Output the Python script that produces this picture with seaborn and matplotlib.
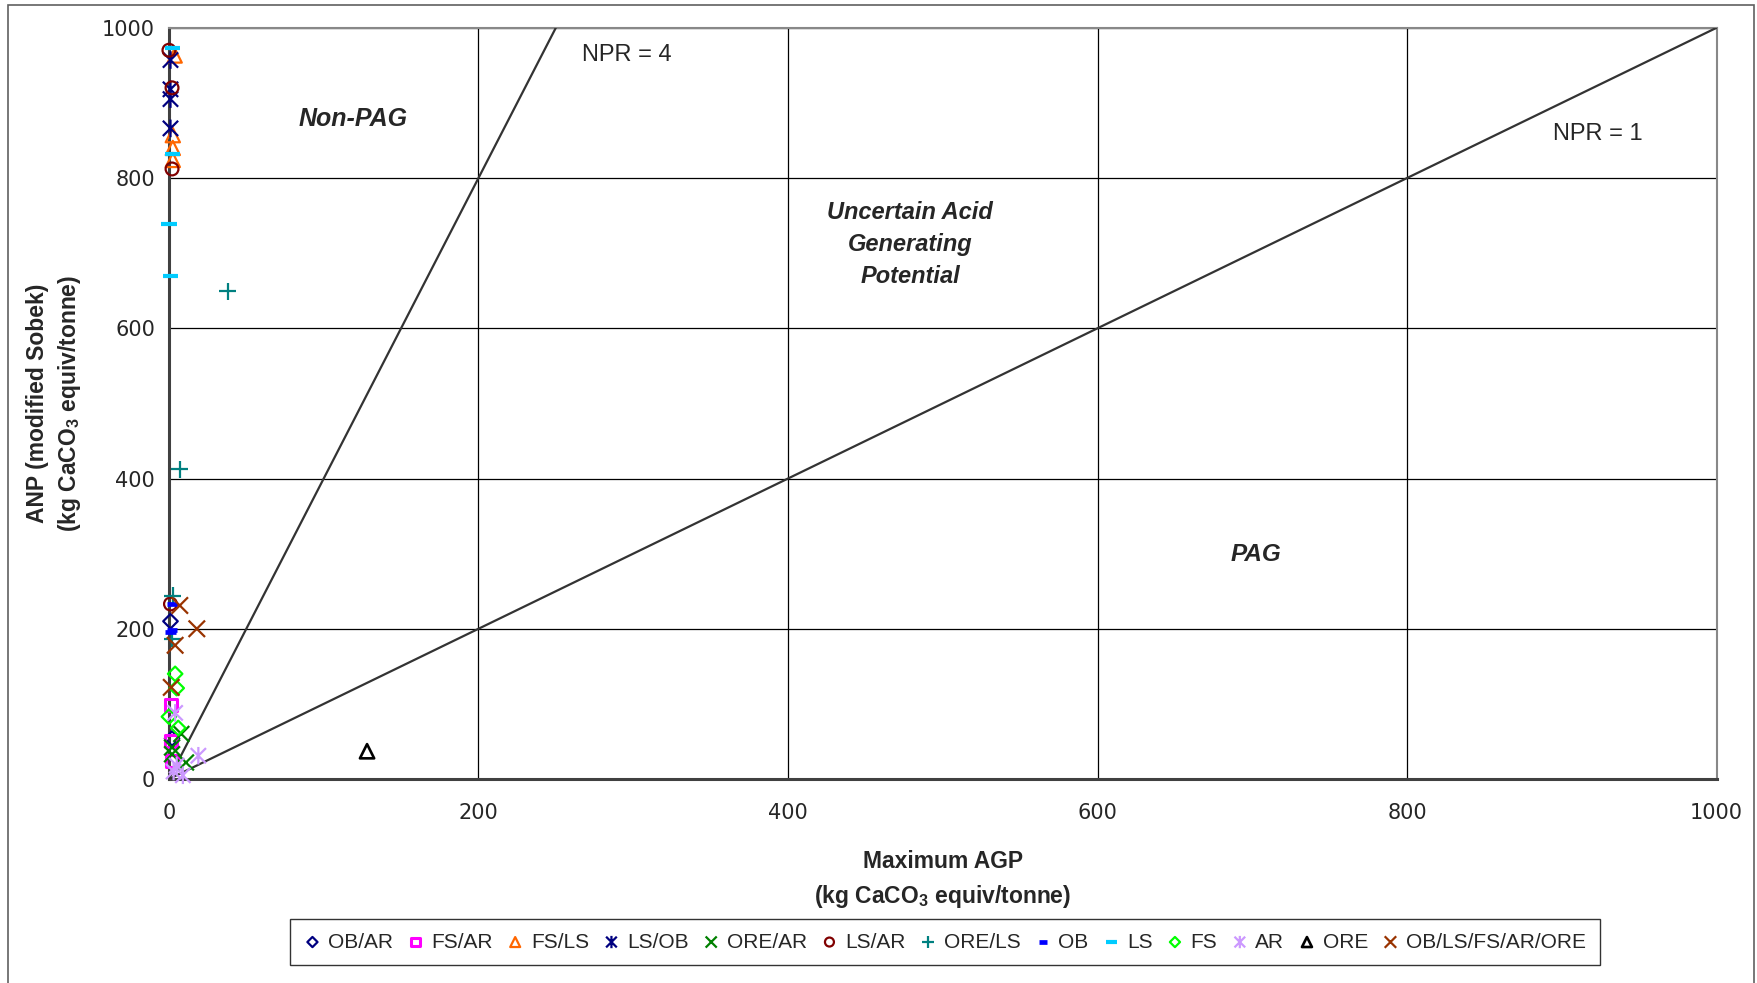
import numpy as np
import pandas as pd
import matplotlib
matplotlib.use("Agg")
import matplotlib.pyplot as plt
from matplotlib.path import Path
from matplotlib.patches import Rectangle
from matplotlib import font_manager
import seaborn as sns

# ---- data: (Maximum AGP, ANP) per lithology group ----
ob_ar_agp = [1, 2]
ob_ar_anp = [210, 54]
fs_ar_agp = [1.5, 1.5, 2]
fs_ar_anp = [99, 51, 24]
fs_ls_agp = [3.7, 2.5, 2.5, 2.5]
fs_ls_anp = [963, 857, 840, 824]
ls_ob_agp = [1, 1, 1, 1]
ls_ob_anp = [957, 918, 905, 866]
ore_ar_agp = [8, 2, 2, 11]
ore_ar_anp = [60, 42, 33, 22]
ls_ar_agp = [0, 2, 2, 1]
ls_ar_anp = [970, 920, 812, 233]
ore_ls_agp = [38, 7, 2.5, 2]
ore_ls_anp = [649, 412, 244, 187]
ob_agp = [2, 2, 1]
ob_anp = [233, 199, 196]
ls_agp = [2.5, 2.5, 0, 1]
ls_anp = [973, 832, 739, 669]
fs_agp = [4, 5, 0, 6]
fs_anp = [140, 121, 83, 68]
ar_agp = [4, 19, 5, 9, 3]
ar_anp = [88, 31, 18, 5, 10]
ore_agp = [128]
ore_anp = [37]
mix_agp = [7, 18, 4, 1.5]
mix_anp = [231, 200, 178, 122]

groups = ["OB/AR", "FS/AR", "FS/LS", "LS/OB", "ORE/AR", "LS/AR", "ORE/LS",
          "OB", "LS", "FS", "AR", "ORE", "OB/LS/FS/AR/ORE"]
agp_values = [ob_ar_agp, fs_ar_agp, fs_ls_agp, ls_ob_agp, ore_ar_agp, ls_ar_agp,
              ore_ls_agp, ob_agp, ls_agp, fs_agp, ar_agp, ore_agp, mix_agp]
anp_values = [ob_ar_anp, fs_ar_anp, fs_ls_anp, ls_ob_anp, ore_ar_anp, ls_ar_anp,
              ore_ls_anp, ob_anp, ls_anp, fs_anp, ar_anp, ore_anp, mix_anp]

# neutralisation potential ratio guide lines
npr_ratios = [4, 1]
npr_labels = ["NPR = 4", "NPR = 1"]
axis_ticks = [0, 200, 400, 600, 800, 1000]

df = pd.concat(
    [pd.DataFrame({"agp": a, "anp": n, "group": g})
     for g, a, n in zip(groups, agp_values, anp_values)],
    ignore_index=True)

# ---- marker shapes ----
def line_marker(segments):
    verts, codes = [], []
    for (x0, y0), (x1, y1) in segments:
        verts += [(x0, y0), (x1, y1)]
        codes += [Path.MOVETO, Path.LINETO]
    return Path(verts, codes)

cross_x = line_marker([((-1, -1), (1, 1)), ((-1, 1), (1, -1))])
cross_plus = line_marker([((-1, 0), (1, 0)), ((0, -1), (0, 1))])
star = line_marker([((-1, -1), (1, 1)), ((-1, 1), (1, -1)), ((0, -1.15), (0, 1.15))])
dash = line_marker([((-1, 0), (1, 0))])

styles = {
    "OB/AR": dict(marker="D", color="#000080", s=55, lw=1.6),
    "FS/AR": dict(marker="s", color="#FF00FF", s=75, lw=2.2),
    "FS/LS": dict(marker="^", color="#FF6600", s=105, lw=1.6),
    "LS/OB": dict(marker=star, color="#000080", s=160, lw=1.6),
    "ORE/AR": dict(marker=cross_x, color="#008000", s=130, lw=1.6),
    "LS/AR": dict(marker="o", color="#800000", s=85, lw=1.6),
    "ORE/LS": dict(marker=cross_plus, color="#008080", s=150, lw=1.6),
    "OB": dict(marker=dash, color="#0000FF", s=60, lw=3.4),
    "LS": dict(marker=dash, color="#00CCFF", s=120, lw=3.0),
    "FS": dict(marker="D", color="#00FF00", s=55, lw=1.6),
    "AR": dict(marker=star, color="#CC99FF", s=160, lw=1.6),
    "ORE": dict(marker="^", color="#000000", s=105, lw=1.9),
    "OB/LS/FS/AR/ORE": dict(marker=cross_x, color="#993300", s=140, lw=1.6),
}

sns.set_style("white")
plt.rcParams["font.family"] = ["Liberation Sans", "DejaVu Sans"]
plt.rcParams["mathtext.fontset"] = "custom"
plt.rcParams["mathtext.rm"] = "Liberation Sans"
plt.rcParams["mathtext.bf"] = "Liberation Sans:bold"

try:
    font_manager.findfont("Liberation Sans Narrow", fallback_to_default=False)
    narrow = ["Liberation Sans Narrow", "Liberation Sans"]
except Exception:
    narrow = ["Liberation Sans"]

fig = plt.figure(figsize=(17.58, 9.83), dpi=100)
ax = fig.add_axes([0.0961, 0.2075, 0.8804, 0.7643])

# chart-area border
fig.patches.append(Rectangle((8 / 1758, -0.02), 1746 / 1758, 1 - 5 / 983 + 0.02,
                             transform=fig.transFigure, fill=False,
                             edgecolor="#606060", lw=1.2))

for g in groups:
    st = styles[g]
    sns.scatterplot(data=df[df["group"] == g], x="agp", y="anp", ax=ax,
                    marker=st["marker"], s=st["s"], facecolor="none",
                    edgecolor=st["color"], linewidth=st["lw"], label=g,
                    clip_on=False, zorder=5)

# NPR lines
for r in npr_ratios:
    line_x = np.array([0, 1000 / r])
    sns.lineplot(x=line_x, y=r * line_x, ax=ax, color="#333333", lw=1.6,
                 zorder=3, legend=False)

ax.set_xlim(0, 1000)
ax.set_ylim(0, 1000)
ax.set_xticks(axis_ticks)
ax.set_yticks(axis_ticks)
ax.grid(True, color="black", lw=0.9)
ax.set_axisbelow(True)
for side in ["top", "right"]:
    ax.spines[side].set_color("#888888")
    ax.spines[side].set_linewidth(1.5)
for side in ["left", "bottom"]:
    ax.spines[side].set_color("#404040")
    ax.spines[side].set_linewidth(2.2)
ax.tick_params(axis="both", direction="out", length=5, width=1.2,
               color="#404040", labelsize=15)
ax.tick_params(axis="x", pad=12)
ax.tick_params(axis="y", pad=5)
for lab in ax.get_xticklabels() + ax.get_yticklabels():
    lab.set_fontfamily("DejaVu Sans")

ax.set_xlabel("Maximum AGP\n(kg CaCO$_\\mathbf{3}$ equiv/tonne)", fontsize=16.5,
              fontweight="bold", labelpad=20, linespacing=1.5)
ax.set_ylabel("ANP (modified Sobek)\n(kg CaCO$_\\mathbf{3}$ equiv/tonne)", fontsize=16.5,
              fontweight="bold", labelpad=14, linespacing=1.35)

# region annotations
ax.text(296, 964, npr_labels[0], fontsize=17, family=narrow, ha="center", va="center")
ax.text(923, 858, npr_labels[1], fontsize=17, family=narrow, ha="center", va="center")
ax.text(119, 878, "Non-PAG", fontsize=18, fontweight="bold", style="italic",
        ha="center", va="center")
ax.text(479, 711, "Uncertain Acid\nGenerating\nPotential", fontsize=17,
        fontweight="bold", style="italic", ha="center", va="center", linespacing=1.5)
ax.text(702, 299, "PAG", fontsize=17.5, fontweight="bold", style="italic",
        ha="center", va="center")

handles, labels = ax.get_legend_handles_labels()
if ax.legend_ is not None:
    ax.legend_.remove()
leg = fig.legend(handles, labels, loc="center", bbox_to_anchor=(0.5373, 0.0417),
                 ncol=13, frameon=True, fancybox=False, edgecolor="black",
                 prop={"family": narrow, "size": 15}, handlelength=0.9,
                 handletextpad=0.3, columnspacing=0.63, borderpad=0.65,
                 markerscale=0.7)
leg.get_frame().set_linewidth(1.0)

fig.savefig("out.png", dpi=100, facecolor="white")
